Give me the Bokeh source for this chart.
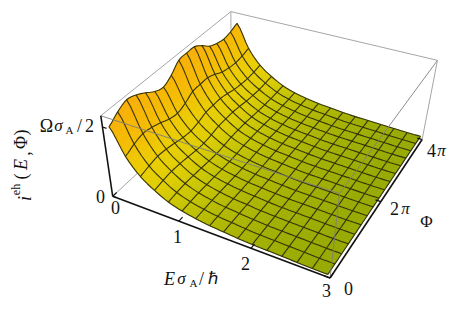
import numpy as np
from bokeh.plotting import figure
from bokeh.models import Range1d
from bokeh.embed import file_html
from bokeh.resources import INLINE

# ---- data (heights in units of the box height)
E_values = [0.10, 0.291, 0.483, 0.675, 0.866, 1.058, 1.249, 1.441, 1.632, 1.824, 2.015, 2.207, 2.398, 2.590, 2.78, 2.97]
Phi_steps = [0, 1, 2, 3, 4, 5, 6, 7, 8, 9, 10, 11, 12, 13, 14, 15, 16]   # in units of pi/4
height_at_low_E = [.90, .98, 1.03, 1.0, .94, .87, .84, .90, 1.0, 1.01, 1.01, .95, .87, .83, .81, .83, .87]
mean_vs_E = [.93, .62, .42, .30, .21, .155, .12, .095, .08, .065, .055, .05, .045, .04, .035, .035]
ripple_vs_E = [1, .62, .36, .22, .13, .08, .05, .03, .02, .01, .005, 0, 0, 0, 0, 0]
height_ref = 0.93

E_ticks = [0, 1, 2, 3]
Phi_ticks = [0, 8, 16]
z_ticks = [0, 0.87]

color_z = [0.03, 0.07, 0.15, 0.28, 0.45, 0.7, 1.05]
color_r = [148, 170, 195, 222, 235, 245, 250]
color_g = [168, 180, 195, 205, 205, 188, 172]
color_b = [0, 0, 0, 0, 0, 0, 8]

# ---- camera calibration: box corners (E frac, Phi frac, z frac) -> page pixels
cal_world = [(0, 0, 0), (1, 0, 0), (1, 1, 0), (0, 1, 0), (0, 0, 1), (1, 0, 1), (1, 1, 1), (0, 1, 1)]
cal_page = [(112, 193), (331, 278), (423, 136), (229, 90), (100, 116), (338, 195), (435, 61), (233, 8)]

rows = []
rhs = []
for (a, b, c), (x, y) in zip(cal_world, cal_page):
    rows.append([a, b, c, 1, 0, 0, 0, 0, -x * a, -x * b, -x * c])
    rhs.append(x)
    rows.append([0, 0, 0, 0, a, b, c, 1, -y * a, -y * b, -y * c])
    rhs.append(y)
m = np.linalg.lstsq(np.array(rows, float), np.array(rhs, float), rcond=None)[0]
M = np.append(m, 1).reshape(3, 4)


def proj(E, Phi, z):
    """E in sigma units, Phi in steps of pi/4, z in box fractions."""
    w = np.array([np.asarray(E, float) / 3.0, np.asarray(Phi, float) / 16.0, np.asarray(z, float), np.ones_like(np.asarray(z, float))])
    q = M @ w
    return q[0] / q[2], q[1] / q[2]


p = figure(width=457, height=310, output_backend="svg", toolbar_location=None,
           x_range=Range1d(0, 457), y_range=Range1d(310, 0), min_border=0)
p.axis.visible = False
p.grid.visible = False
p.outline_line_color = None
p.background_fill_color = "white"
p.border_fill_color = "white"

GREY = "#a6a6a6"


def seg(a, b, color=GREY, width=1.0, alpha=1.0):
    x0, y0 = proj(*a)
    x1, y1 = proj(*b)
    p.line([float(x0), float(x1)], [float(y0), float(y1)], line_color=color, line_width=width, line_alpha=alpha)


# hidden box edges
seg((0, 0, 0), (0, 16, 0))
seg((0, 16, 0), (3, 16, 0))
seg((0, 16, 0), (0, 16, 1))
# top back edges
seg((0, 0, 1), (0, 16, 1))
seg((0, 16, 1), (3, 16, 1))

# surface: smooth the drawn mesh between the read grid nodes
Z = np.array(mean_vs_E)[:, None] + np.array(ripple_vs_E)[:, None] * (np.array(height_at_low_E)[None, :] - height_ref)
SUB = 4


def cr_axis(A, axis):
    A = np.moveaxis(A, axis, 0)
    n = A.shape[0]
    out = []
    for i in range(n - 1):
        p0 = A[max(i - 1, 0)]
        p1 = A[i]
        p2 = A[i + 1]
        p3 = A[min(i + 2, n - 1)]
        for k in range(SUB):
            t = k / SUB
            out.append(0.5 * (2 * p1 + (p2 - p0) * t + (2 * p0 - 5 * p1 + 4 * p2 - p3) * t ** 2 + (3 * p1 - p0 - 3 * p2 + p3) * t ** 3))
    out.append(A[-1])
    return np.moveaxis(np.array(out), 0, axis)


def lin_idx(vals):
    v = np.asarray(vals, float)
    return np.interp(np.arange((len(v) - 1) * SUB + 1) / SUB, np.arange(len(v)), v)


ZF = cr_axis(cr_axis(Z, 0), 1)
EF = lin_idx(E_values)
FF_ = lin_idx(Phi_steps)
EE, FF = np.meshgrid(EF, FF_, indexing="ij")
PX, PY = proj(EE.ravel(), FF.ravel(), ZF.ravel())
PX = PX.reshape(EE.shape)
PY = PY.reshape(EE.shape)

xs, ys, fills = [], [], []
for i in range(EE.shape[0] - 1):
    for j in range(EE.shape[1] - 2, -1, -1):
        xs.append([PX[i, j], PX[i + 1, j], PX[i + 1, j + 1], PX[i, j + 1]])
        ys.append([PY[i, j], PY[i + 1, j], PY[i + 1, j + 1], PY[i, j + 1]])
        zm = ZF[i:i + 2, j:j + 2].mean()
        fills.append("#%02x%02x%02x" % (int(np.interp(zm, color_z, color_r)),
                                        int(np.interp(zm, color_z, color_g)),
                                        int(np.interp(zm, color_z, color_b))))
p.patches(xs, ys, fill_color=fills, line_color=fills, line_width=0.6)

mesh_x, mesh_y = [], []
for i in range(0, EE.shape[0], SUB):
    mesh_x.append(list(PX[i, :]))
    mesh_y.append(list(PY[i, :]))
for j in range(0, EE.shape[1], SUB):
    mesh_x.append(list(PX[:, j]))
    mesh_y.append(list(PY[:, j]))
p.multi_line(mesh_x, mesh_y, line_color="#2e2d08", line_width=1.1, line_alpha=0.95)

# front box edges (seen through the surface)
seg((0, 0, 1), (3, 0, 1), color="#808078", alpha=0.9)
seg((3, 0, 1), (3, 16, 1), color="#808078", alpha=0.9)
seg((3, 0, 1), (3, 0, 0), color="#808078", alpha=0.9)
seg((3, 16, 1), (3, 16, 0), color=GREY)

# axes
BLACK = "#111111"
seg((0, 0, 0), (3, 0, 0), color=BLACK, width=1.6)
seg((3, 0, 0), (3, 16, 0), color=BLACK, width=1.6)
seg((0, 0, 0), (0, 0, 1), color=BLACK, width=1.6)
for t in E_ticks:
    seg((t, 0, 0), (t, 0.45, 0), color=BLACK, width=1.2)
for t in Phi_ticks:
    seg((3, t, 0), (2.93, t, 0), color=BLACK, width=1.2)
for t in z_ticks:
    seg((0, 0, t), (0.06, 0, t), color=BLACK, width=1.2)


def txt(x, y, s, size=17, style="normal", angle=0.0, align="center", font="Liberation Serif"):
    p.text([x], [y], [s], text_font={"value": font}, text_font_size=f"{size}px", text_font_style=style,
           text_align=align, text_baseline="middle", angle=angle, text_color="#111111")


# tick labels
E_tick_labels = ["0", "1", "2", "3"]
for lab, (x, y) in zip(E_tick_labels, [(115, 207), (177, 236), (245, 263), (326, 290)]):
    txt(x, y, lab, size=18)
txt(348, 288, "0", size=18)
txt(394, 208, "2", size=18)
txt(405, 208, "π", style="italic")
txt(431, 150, "4", size=18)
txt(441, 150, "π", style="italic")
txt(426, 221, "Φ")
txt(100, 196, "0", size=18)
# Omega sigma_A / 2
txt(46, 125, "Ω", size=18)
txt(58, 125, "σ", style="italic")
txt(69, 129, "A", size=11)
txt(79, 125, "/", size=18)
txt(89, 125, "2", size=18)
# E sigma_A / hbar
txt(169, 278, "E", style="italic", size=18)
txt(181, 278, "σ", style="italic")
txt(193, 282, "A", size=11)
txt(201, 278, "/", size=18)
txt(212, 278, "ℏ")
# y label, rotated
a = np.pi / 2
txt(24, 198, "i", style="italic", angle=a, size=18)
txt(15, 189, "eh", size=12, angle=a)
txt(20, 176, "(", angle=a, size=18)
txt(20, 164, "E", style="italic", angle=a, size=18)
txt(23, 153, ",", angle=a, size=18)
txt(20, 142, "Φ", angle=a, size=18)
txt(20, 132, ")", angle=a, size=18)

open("out.html", "w").write(file_html(p, INLINE))
